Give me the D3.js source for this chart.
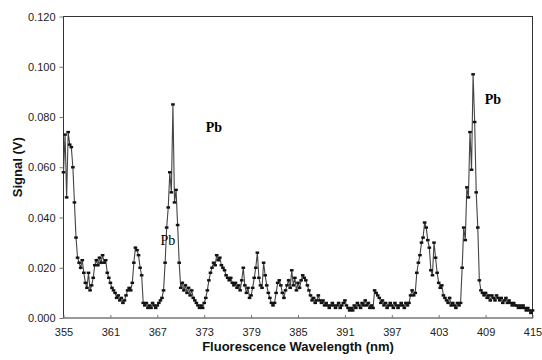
<!DOCTYPE html>
<html>
<head>
<meta charset="utf-8">
<script src="https://cdn.jsdelivr.net/npm/d3@7"></script>
<style>
  body { margin: 0; background: #fff; }
  svg { display: block; }
</style>
</head>
<body>
<div id="vis"></div>
<script>
// x grid: 355 nm to 415 nm, one reading every 0.2 nm
const START_NM = 355;
const STEP_NM = 0.2;

// signal (V), one row per nm
const signal = [
  0.058, 0.073, 0.048, 0.074, 0.069,  // 355
  0.068, 0.060, 0.046, 0.032, 0.024,  // 356
  0.022, 0.020, 0.023, 0.018, 0.014,  // 357
  0.012, 0.018, 0.011, 0.013, 0.016,  // 358
  0.021, 0.023, 0.021, 0.024, 0.022,  // 359
  0.025, 0.022, 0.023, 0.018, 0.016,  // 360
  0.014, 0.012, 0.011, 0.010, 0.008,  // 361
  0.009, 0.007, 0.008, 0.006, 0.007,  // 362
  0.009, 0.011, 0.012, 0.011, 0.014,  // 363
  0.022, 0.028, 0.027, 0.025, 0.020,  // 364
  0.017, 0.006, 0.005, 0.006, 0.004,  // 365
  0.005, 0.004, 0.006, 0.005, 0.004,  // 366
  0.005, 0.006, 0.007, 0.008, 0.011,  // 367
  0.022, 0.036, 0.044, 0.058, 0.050,  // 368
  0.085, 0.046, 0.051, 0.037, 0.022,  // 369
  0.012, 0.014, 0.011, 0.013, 0.010,  // 370
  0.012, 0.009, 0.011, 0.008, 0.007,  // 371
  0.006, 0.005, 0.004, 0.005, 0.004,  // 372
  0.006, 0.008, 0.011, 0.015, 0.018,  // 373
  0.020, 0.022, 0.021, 0.025, 0.023,  // 374
  0.024, 0.021, 0.020, 0.019, 0.017,  // 375
  0.016, 0.015, 0.016, 0.014, 0.013,  // 376
  0.014, 0.012, 0.013, 0.011, 0.015,  // 377
  0.020, 0.013, 0.010, 0.012, 0.008,  // 378
  0.009, 0.012, 0.016, 0.020, 0.026,  // 379
  0.016, 0.013, 0.012, 0.022, 0.017,  // 380
  0.013, 0.010, 0.008, 0.006, 0.005,  // 381
  0.006, 0.010, 0.014, 0.015, 0.013,  // 382
  0.010, 0.008, 0.011, 0.013, 0.015,  // 383
  0.012, 0.019, 0.013, 0.016, 0.011,  // 384
  0.014, 0.012, 0.015, 0.017, 0.016,  // 385
  0.015, 0.013, 0.011, 0.009, 0.007,  // 386
  0.008, 0.006, 0.007, 0.009, 0.007,  // 387
  0.006, 0.007, 0.005, 0.006, 0.005,  // 388
  0.004, 0.005, 0.006, 0.005, 0.004,  // 389
  0.005, 0.006, 0.004, 0.005, 0.006,  // 390
  0.007, 0.005, 0.004, 0.003, 0.004,  // 391
  0.003, 0.005, 0.004, 0.006, 0.005,  // 392
  0.004, 0.006, 0.005, 0.007, 0.005,  // 393
  0.006, 0.004, 0.005, 0.004, 0.011,  // 394
  0.010, 0.009, 0.008, 0.006, 0.007,  // 395
  0.005, 0.006, 0.004, 0.005, 0.006,  // 396
  0.005, 0.004, 0.006, 0.005, 0.004,  // 397
  0.005, 0.006, 0.005, 0.004, 0.006,  // 398
  0.005, 0.006, 0.009, 0.011, 0.009,  // 399
  0.010, 0.018, 0.022, 0.025, 0.030,  // 400
  0.032, 0.038, 0.036, 0.031, 0.028,  // 401
  0.019, 0.017, 0.030, 0.024, 0.018,  // 402
  0.014, 0.012, 0.013, 0.009, 0.008,  // 403
  0.007, 0.006, 0.008, 0.005, 0.006,  // 404
  0.005, 0.004, 0.006, 0.005, 0.006,  // 405
  0.020, 0.036, 0.031, 0.052, 0.048,  // 406
  0.074, 0.059, 0.097, 0.078, 0.050,  // 407
  0.036, 0.015, 0.011, 0.010, 0.009,  // 408
  0.010, 0.008, 0.009, 0.007, 0.009,  // 409
  0.008, 0.007, 0.009, 0.008, 0.007,  // 410
  0.008, 0.006, 0.007, 0.008, 0.006,  // 411
  0.007, 0.006, 0.005, 0.006, 0.005,  // 412
  0.005, 0.004, 0.005, 0.004, 0.005,  // 413
  0.004, 0.003, 0.004, 0.003, 0.002,  // 414
  0.003                               // 415
];

const xTicks = [355, 361, 367, 373, 379, 385, 391, 397, 403, 409, 415];
const yTicks = [0, 0.02, 0.04, 0.06, 0.08, 0.10, 0.12];

// peak labels: [wavelength, signal, text, bold]
const labels = [
  [367.4, 0.029, "Pb", false],
  [373.2, 0.074, "Pb", true],
  [408.9, 0.085, "Pb", true]
];

const WIDTH = 542;
const HEIGHT = 360;
const margin = { top: 16.5, right: 9.5, bottom: 42, left: 63.5 };

const svg = d3.select("#vis").append("svg")
  .attr("width", WIDTH)
  .attr("height", HEIGHT);

const x = d3.scaleLinear().domain([355, 415])
  .range([margin.left, WIDTH - margin.right]);
const y = d3.scaleLinear().domain([0, 0.12])
  .range([HEIGHT - margin.bottom, margin.top]);

const data = signal.map(function (v, i) {
  return { nm: START_NM + i * STEP_NM, v: v };
});

// frame
svg.append("rect")
  .attr("x", x(355)).attr("y", y(0.12))
  .attr("width", x(415) - x(355)).attr("height", y(0) - y(0.12))
  .attr("fill", "none").attr("stroke", "#333").attr("stroke-width", 1);

// y axis, ticks outward
const yAxis = svg.append("g")
  .attr("transform", "translate(" + x(355) + ",0)")
  .call(d3.axisLeft(y).tickValues(yTicks).tickFormat(d3.format(".3f"))
    .tickSizeInner(4).tickSizeOuter(0).tickPadding(4));
yAxis.select(".domain").remove();
yAxis.selectAll(".tick line").attr("stroke", "#777");
yAxis.selectAll("text")
  .attr("font-family", "Liberation Sans, Arial, sans-serif")
  .attr("font-size", "11px").attr("fill", "#222");

// x axis, ticks inward
const xAxis = svg.append("g")
  .attr("transform", "translate(0," + y(0) + ")")
  .call(d3.axisBottom(x).tickValues(xTicks).tickFormat(d3.format("d"))
    .tickSizeInner(-3).tickSizeOuter(0).tickPadding(10));
xAxis.select(".domain").remove();
xAxis.selectAll(".tick line").attr("stroke", "#777");
xAxis.selectAll("text")
  .attr("font-family", "Liberation Sans, Arial, sans-serif")
  .attr("font-size", "11px").attr("fill", "#222");

// spectrum line
const line = d3.line()
  .x(function (d) { return x(d.nm); })
  .y(function (d) { return y(d.v); });

svg.append("path")
  .datum(data)
  .attr("d", line)
  .attr("fill", "none")
  .attr("stroke", "#444")
  .attr("stroke-width", 1.1);

// markers (small dashes)
svg.append("g").selectAll("rect")
  .data(data)
  .enter()
  .append("rect")
  .attr("x", function (d) { return x(d.nm) - 1.8; })
  .attr("y", function (d) { return y(d.v) - 1.2; })
  .attr("width", 3.6)
  .attr("height", 2.4)
  .attr("fill", "#111");

// peak labels
svg.append("g").selectAll("text")
  .data(labels)
  .enter()
  .append("text")
  .attr("x", function (d) { return x(d[0]); })
  .attr("y", function (d) { return y(d[1]); })
  .attr("font-family", "Liberation Serif, Times New Roman, serif")
  .attr("font-size", "14px")
  .attr("font-weight", function (d) { return d[3] ? "bold" : "normal"; })
  .attr("fill", "#000")
  .text(function (d) { return d[2]; });

// axis titles
svg.append("text")
  .attr("x", (x(355) + x(415)) / 2)
  .attr("y", 351)
  .attr("text-anchor", "middle")
  .attr("font-family", "Liberation Sans, Arial, sans-serif")
  .attr("font-size", "13px")
  .attr("font-weight", "bold")
  .attr("fill", "#111")
  .text("Fluorescence Wavelength (nm)");

svg.append("text")
  .attr("transform", "translate(22," + y(0.06) + ") rotate(-90)")
  .attr("text-anchor", "middle")
  .attr("font-family", "Liberation Sans, Arial, sans-serif")
  .attr("font-size", "13px")
  .attr("font-weight", "bold")
  .attr("fill", "#111")
  .text("Signal (V)");
</script>
</body>
</html>
